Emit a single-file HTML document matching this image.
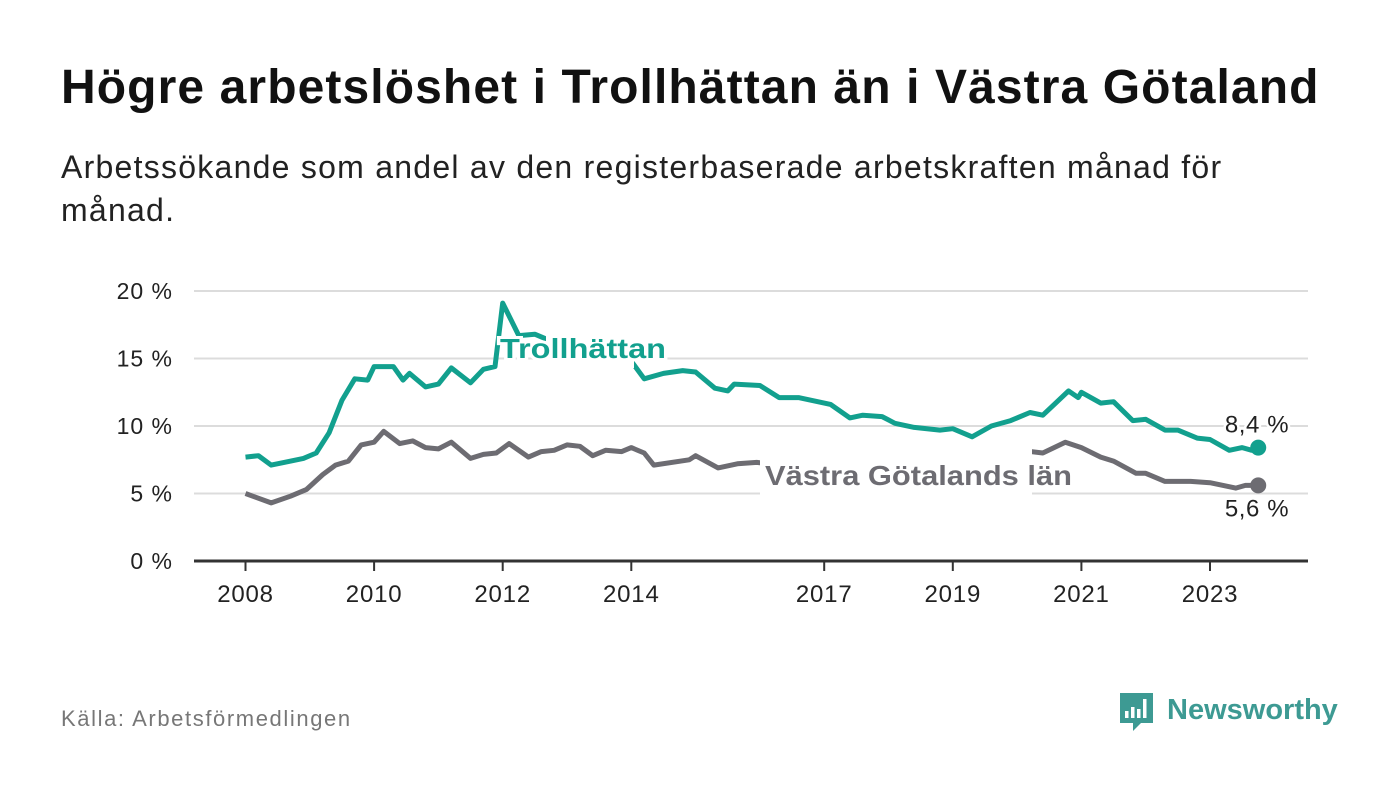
<!DOCTYPE html>
<html><head><meta charset="utf-8">
<style>
html,body{margin:0;padding:0;background:#fff;}
body{width:1400px;height:794px;position:relative;overflow:hidden;font-family:"Liberation Sans","DejaVu Sans",sans-serif;}
#title{position:absolute;left:61px;top:60px;font-size:48px;font-weight:bold;color:#111;margin:0;letter-spacing:1.1px;white-space:nowrap;}
#sub{position:absolute;left:61px;top:146px;width:1220px;font-size:32px;line-height:43px;color:#222;letter-spacing:1.25px;}
#src{position:absolute;left:61px;top:706px;font-size:22px;color:#777;letter-spacing:1.6px;}
svg{position:absolute;left:0;top:0;}
</style></head><body>
<h1 id="title">Högre arbetslöshet i Trollhättan än i Västra Götaland</h1>
<div id="sub">Arbetssökande som andel av den registerbaserade arbetskraften månad för månad.</div>
<div id="src">Källa: Arbetsförmedlingen</div>
<svg id="chart" width="1400" height="794"></svg>
<script>
const yTicks=[0,5,10,15,20];
const xTickYears=[2008,2010,2012,2014,2017,2019,2021,2023];
const trollDates=[2008.0,2008.2,2008.4,2008.6,2008.9,2009.1,2009.3,2009.5,2009.7,2009.9,2010.0,2010.3,2010.45,2010.55,2010.8,2011.0,2011.2,2011.5,2011.7,2011.88,2012.0,2012.25,2012.5,2012.8,2013.2,2013.6,2014.0,2014.2,2014.5,2014.8,2015.0,2015.3,2015.5,2015.6,2016.0,2016.3,2016.6,2016.9,2017.1,2017.4,2017.6,2017.9,2018.1,2018.4,2018.8,2019.0,2019.3,2019.6,2019.9,2020.2,2020.4,2020.6,2020.8,2020.95,2021.0,2021.3,2021.5,2021.8,2022.0,2022.3,2022.5,2022.8,2023.0,2023.3,2023.5,2023.65,2023.75];
const trollValues=[7.7,7.8,7.1,7.3,7.6,8.0,9.5,11.9,13.5,13.4,14.4,14.4,13.4,13.9,12.9,13.1,14.3,13.2,14.2,14.4,19.1,16.7,16.8,16.2,15.8,15.3,14.8,13.5,13.9,14.1,14.0,12.8,12.6,13.1,13.0,12.1,12.1,11.8,11.6,10.6,10.8,10.7,10.2,9.9,9.7,9.8,9.2,10.0,10.4,11.0,10.8,11.7,12.6,12.1,12.5,11.7,11.8,10.4,10.5,9.7,9.7,9.1,9.0,8.2,8.4,8.2,8.4];
const vgDates=[2008.0,2008.4,2008.7,2008.95,2009.2,2009.4,2009.6,2009.8,2010.0,2010.15,2010.4,2010.6,2010.8,2011.0,2011.2,2011.5,2011.7,2011.9,2012.1,2012.4,2012.6,2012.8,2013.0,2013.2,2013.4,2013.6,2013.85,2014.0,2014.2,2014.35,2014.9,2015.0,2015.35,2015.65,2015.95,2016.5,2017.0,2017.5,2018.0,2018.5,2019.0,2019.5,2019.8,2020.05,2020.4,2020.75,2021.0,2021.3,2021.5,2021.85,2022.0,2022.3,2022.7,2023.0,2023.4,2023.55,2023.75];
const vgValues=[5.0,4.3,4.8,5.3,6.4,7.1,7.4,8.6,8.8,9.6,8.7,8.9,8.4,8.3,8.8,7.6,7.9,8.0,8.7,7.7,8.1,8.2,8.6,8.5,7.8,8.2,8.1,8.4,8.0,7.1,7.5,7.8,6.9,7.2,7.3,7.0,6.8,6.6,6.4,6.2,6.0,6.2,7.6,8.2,8.0,8.8,8.4,7.7,7.4,6.5,6.5,5.9,5.9,5.8,5.4,5.6,5.6];

const svg=document.getElementById('chart');
const NS='http://www.w3.org/2000/svg';
const X=y=>245.5+(y-2008)*64.3;
const Y=v=>561-v*13.5;
function mk(t,a,p){const e=document.createElementNS(NS,t);for(const k in a)e.setAttribute(k,a[k]);(p||svg).appendChild(e);return e;}

yTicks.forEach(v=>{
  if(v>0){const g=mk('line',{x1:194,x2:1308,y1:Y(v),y2:Y(v),stroke:'#dcdcdc','stroke-width':2});
  
  }
  const t=mk('text',{x:173,y:Y(v)+8,'text-anchor':'end','font-size':23,fill:'#222','letter-spacing':1});
  t.textContent=v+' %';
  
  
});
const ax=mk('line',{x1:194,x2:1308,y1:561,y2:561,stroke:'#333','stroke-width':3});


xTickYears.forEach(yr=>{
  const tk=mk('line',{x1:X(yr),x2:X(yr),y1:561,y2:571,stroke:'#333','stroke-width':2});
  
  
  const t=mk('text',{x:X(yr),y:602,'text-anchor':'middle','font-size':24,fill:'#222','letter-spacing':0.8});
  t.textContent=yr;
  
  
});
function path(d,v){return d.map((x,i)=>(i?'L':'M')+X(x).toFixed(1)+','+Y(v[i]).toFixed(1)).join('');}
const gl=mk('path',{d:path(vgDates,vgValues),fill:'none',stroke:'#6d6c72','stroke-width':5,'stroke-linejoin':'round'});


const tl=mk('path',{d:path(trollDates,trollValues),fill:'none',stroke:'#12a08e','stroke-width':5,'stroke-linejoin':'round'});


// label knockouts
mk('rect',{x:760,y:440,width:272,height:56,fill:'#fff'});
mk('rect',{x:546,y:326,width:88,height:42,fill:'#fff'});
const l1=mk('text',{x:500,y:358,'font-size':28,'font-weight':'bold',fill:'#12a08e',stroke:'#fff','stroke-width':6,'paint-order':'stroke','textLength':166,'lengthAdjust':'spacingAndGlyphs'});
l1.textContent='Trollhättan';


const l2=mk('text',{x:765,y:485,'font-size':28,'font-weight':'bold',fill:'#6d6c72',stroke:'#fff','stroke-width':6,'paint-order':'stroke','textLength':307,'lengthAdjust':'spacingAndGlyphs'});
l2.textContent='Västra Götalands län';


const lt=trollDates.length-1, lg=vgDates.length-1;
const d1=mk('circle',{cx:X(trollDates[lt]),cy:Y(trollValues[lt]),r:8,fill:'#12a08e'});


const d2=mk('circle',{cx:X(vgDates[lg]),cy:Y(vgValues[lg]),r:8,fill:'#6d6c72'});


const v1=mk('text',{x:1257,y:Y(trollValues[lt])-15,'text-anchor':'middle','font-size':24,fill:'#222',stroke:'#fff','stroke-width':5,'paint-order':'stroke','letter-spacing':0.6});
v1.textContent=trollValues[lt].toString().replace('.',',')+' %';


const v2=mk('text',{x:1257,y:Y(vgValues[lg])+31,'text-anchor':'middle','font-size':24,fill:'#222',stroke:'#fff','stroke-width':5,'paint-order':'stroke','letter-spacing':0.6});
v2.textContent=vgValues[lg].toString().replace('.',',')+' %';


</script>
<svg width="1400" height="794" style="pointer-events:none">
<path d="M1120,693 h33 v30 h-12 l-8,8 v-8 h-13 z" fill="#3d9a93"/>
<rect x="1125" y="711" width="3.5" height="7" fill="#fff"/>
<rect x="1131" y="707" width="3.5" height="11" fill="#fff"/>
<rect x="1137" y="709" width="3.5" height="9" fill="#fff"/>
<rect x="1143" y="699" width="3.5" height="19" fill="#fff"/>
<text x="1167" y="719" font-size="29" font-weight="bold" fill="#3d9a93" font-family="Liberation Sans, sans-serif">Newsworthy</text>
</svg>
</body></html>
